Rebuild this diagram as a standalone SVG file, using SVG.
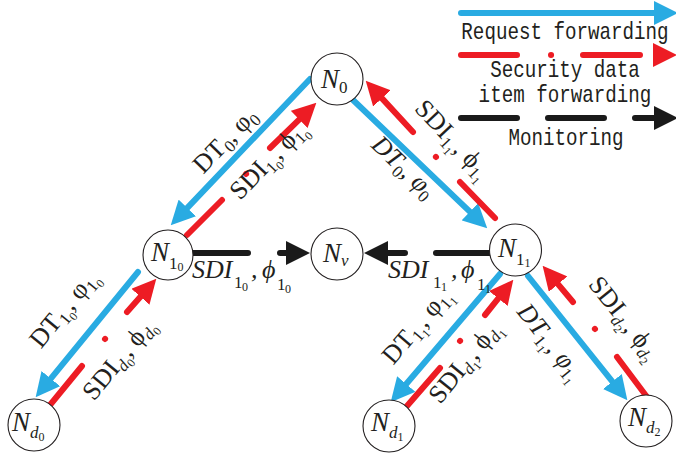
<svg xmlns="http://www.w3.org/2000/svg" width="676" height="456" viewBox="0 0 676 456">
  <defs>
    <style>
      .node circle { fill: #ffffff; stroke: #231f20; stroke-width: 1.1; }
      .nl { font-family: "Liberation Serif", "DejaVu Serif", serif; font-style: italic; font-size: 27px; fill: #231f20; }
      .lb { font-family: "Liberation Serif", "DejaVu Serif", serif; font-size: 26px; fill: #231f20; text-anchor: middle; }
      .lbi { font-style: italic; }
      .hl { font-family: "Liberation Serif", "DejaVu Serif", serif; font-size: 26px; font-style: italic; fill: #231f20; }
      .s { font-size: 17px; font-style: normal; }
      .si { font-size: 17px; font-style: italic; }
      .ss { font-size: 12px; font-style: normal; }
      .leg { font-family: "Liberation Mono", "DejaVu Sans Mono", monospace; font-size: 19.2px; fill: #231f20; text-anchor: middle; }
      .blue { fill: none; stroke: #29abe2; stroke-width: 6; stroke-linecap: round; marker-end: url(#ah-blue); }
      .red { fill: none; stroke: #ed1c24; stroke-width: 6; stroke-linecap: round; marker-end: url(#ah-red); }
      .black { fill: none; stroke: #1a1a1a; stroke-width: 6; stroke-linecap: round; marker-end: url(#ah-black); }
      .nohead { marker-end: none; }
    </style>
    <marker id="ah-blue" markerUnits="userSpaceOnUse" viewBox="0 0 24 24" markerWidth="24" markerHeight="24" refX="1" refY="12" orient="auto">
      <path d="M0,0 L24,12 L0,24 z" fill="#29abe2"/>
    </marker>
    <marker id="ah-red" markerUnits="userSpaceOnUse" viewBox="0 0 24 24" markerWidth="24" markerHeight="24" refX="1" refY="12" orient="auto">
      <path d="M0,0 L24,12 L0,24 z" fill="#ed1c24"/>
    </marker>
    <marker id="ah-black" markerUnits="userSpaceOnUse" viewBox="0 0 24 24" markerWidth="24" markerHeight="24" refX="1" refY="12" orient="auto">
      <path d="M0,0 L24,12 L0,24 z" fill="#1a1a1a"/>
    </marker>
  </defs>

  <!-- legend -->
  <g id="legend">
    <path class="blue" d="M461,13 L655,13"/>
    <path class="red nohead" d="M461,55 L517,55 M551,55 L551.1,55 M583,55 L640,55"/>
    <polygon points="653,43 677,55 653,67" fill="#ed1c24"/>
    <path class="black" d="M461,118 L517,118 M548,118 L604,118 M635,118 L655,118"/>
    <!-- legend captions, stretched vertically for a taller typeface look -->
    <g transform="scale(1,1.25)">
      <text class="leg" x="565" y="31.2">Request forwarding</text>
      <text class="leg" x="565" y="61.6">Security data</text>
      <text class="leg" x="565" y="81.6">item forwarding</text>
      <text class="leg" x="566" y="116">Monitoring</text>
    </g>
  </g>

  <!-- connectors -->
  <g id="connectors">
    <!-- request forwarding -->
    <path class="blue" d="M310,79 L186.6,208.6"/>
    <path class="blue" d="M352,99 L470.6,212.4"/>
    <path class="blue" d="M138,272 L50.2,379.4"/>
    <path class="blue" d="M500,274 L405.6,384.7"/>
    <path class="blue" d="M528,276 L613,382.3"/>
    <!-- security data item forwarding -->
    <path class="red" d="M187,235 L222,200 M246,174 L246.1,173.9 M270,148 L299.9,118.8"/>
    <path class="red" d="M495,218 L460,182 M436,157 L435.9,156.9 M413,132 L381.3,97.6"/>
    <path class="red" d="M50,405 L82,366 M105,339 L105.1,338.9 M127,312 L141.1,296"/>
    <path class="red" d="M407,406 L440,368 M460,341 L460.1,340.9 M485,315 L498.9,297.7"/>
    <path class="red" d="M647,397 L617,357 M595,329 L594.9,328.9 M573,302 L557.4,283.4"/>
    <!-- monitoring -->
    <path class="black" d="M193,253 L248,253 M280,253 L287,253"/>
    <path class="black" d="M492,253 L436,253 M405,253 L387,253"/>
  </g>

  <!-- edge labels -->
  <g id="edge-labels">
    <text class="lb" transform="translate(231,146) rotate(-46)">DT<tspan class="s" dy="5">0</tspan><tspan dy="-5">, φ</tspan><tspan class="s" dy="5">0</tspan></text>
    <text class="lb" transform="translate(274,166) rotate(-46)">SDI<tspan class="s" dy="5">1</tspan><tspan class="ss" dy="3">0</tspan><tspan dy="-8">, ϕ</tspan><tspan class="s" dy="5">1</tspan><tspan class="ss" dy="3">0</tspan></text>
    <text class="lb" transform="translate(447,145) rotate(46.7)">SDI<tspan class="s" dy="5">1</tspan><tspan class="ss" dy="3">1</tspan><tspan dy="-8">, ϕ</tspan><tspan class="s" dy="5">1</tspan><tspan class="ss" dy="3">1</tspan></text>
    <text class="lb lbi" transform="translate(398,173) rotate(43.7)">DT<tspan class="s" dy="5">0</tspan><tspan dy="-5">, φ</tspan><tspan class="s" dy="5">0</tspan></text>
    <text class="lb" transform="translate(70,314) rotate(-50.7)">DT<tspan class="s" dy="5">1</tspan><tspan class="ss" dy="3">0</tspan><tspan dy="-8">, φ</tspan><tspan class="s" dy="5">1</tspan><tspan class="ss" dy="3">0</tspan></text>
    <text class="lb" transform="translate(125,364) rotate(-50.7)">SDI<tspan class="si" dy="5">d</tspan><tspan class="ss" dy="3">0</tspan><tspan dy="-8">, ϕ</tspan><tspan class="si" dy="5">d</tspan><tspan class="ss" dy="3">0</tspan></text>
    <text class="lb" transform="translate(423,331) rotate(-49.5)">DT<tspan class="s" dy="5">1</tspan><tspan class="ss" dy="3">1</tspan><tspan dy="-8">, φ</tspan><tspan class="s" dy="5">1</tspan><tspan class="ss" dy="3">1</tspan></text>
    <text class="lb" transform="translate(471,367) rotate(-51)">SDI<tspan class="si" dy="5">d</tspan><tspan class="ss" dy="3">1</tspan><tspan dy="-8">, ϕ</tspan><tspan class="si" dy="5">d</tspan><tspan class="ss" dy="3">1</tspan></text>
    <text class="lb lbi" transform="translate(544,347) rotate(51.3)">DT<tspan class="s" dy="5">1</tspan><tspan class="ss" dy="3">1</tspan><tspan dy="-8">, φ</tspan><tspan class="s" dy="5">1</tspan><tspan class="ss" dy="3">1</tspan></text>
    <text class="lb" transform="translate(618,323) rotate(51.5)">SDI<tspan class="si" dy="5">d</tspan><tspan class="ss" dy="3">2</tspan><tspan dy="-8">, ϕ</tspan><tspan class="si" dy="5">d</tspan><tspan class="ss" dy="3">2</tspan></text>
    <text class="hl" x="192" y="278">SDI<tspan class="s" x="234" y="288">1</tspan><tspan class="ss" x="242" y="291">0</tspan><tspan x="251" y="278">,</tspan><tspan x="262" y="278">ϕ</tspan><tspan class="s" x="277" y="290">1</tspan><tspan class="ss" x="285" y="293">0</tspan></text>
    <text class="hl" x="388" y="278">SDI<tspan class="s" x="433" y="288">1</tspan><tspan class="ss" x="441" y="291">1</tspan><tspan x="451" y="278">,</tspan><tspan x="461" y="278">ϕ</tspan><tspan class="s" x="477" y="290">1</tspan><tspan class="ss" x="485" y="293">1</tspan></text>
  </g>

  <!-- nodes -->
  <g id="node-N0" class="node">
    <circle cx="337" cy="79" r="26"/>
    <text class="nl" x="321" y="88">N<tspan class="s" dy="5">0</tspan></text>
  </g>
  <g id="node-N1_0" class="node">
    <circle cx="168" cy="255" r="25"/>
    <text class="nl" x="151" y="261">N<tspan class="s" dy="8">1</tspan><tspan class="ss" dy="2">0</tspan></text>
  </g>
  <g id="node-Nv" class="node">
    <circle cx="337" cy="254" r="26"/>
    <text class="nl" x="323" y="262">N<tspan class="si" dy="4">v</tspan></text>
  </g>
  <g id="node-N1_1" class="node">
    <circle cx="515.5" cy="250" r="26"/>
    <text class="nl" x="498" y="257">N<tspan class="s" dy="8">1</tspan><tspan class="ss" dy="2">1</tspan></text>
  </g>
  <g id="node-Nd0" class="node">
    <circle cx="34" cy="425" r="26"/>
    <text class="nl" x="12" y="431">N<tspan class="si" dy="7">d</tspan><tspan class="ss" dy="3">0</tspan></text>
  </g>
  <g id="node-Nd1" class="node">
    <circle cx="389" cy="426" r="26"/>
    <text class="nl" x="371" y="431">N<tspan class="si" dy="7">d</tspan><tspan class="ss" dy="3">1</tspan></text>
  </g>
  <g id="node-Nd2" class="node">
    <circle cx="646" cy="421" r="26"/>
    <text class="nl" x="628" y="426">N<tspan class="si" dy="7">d</tspan><tspan class="ss" dy="3">2</tspan></text>
  </g>
</svg>
